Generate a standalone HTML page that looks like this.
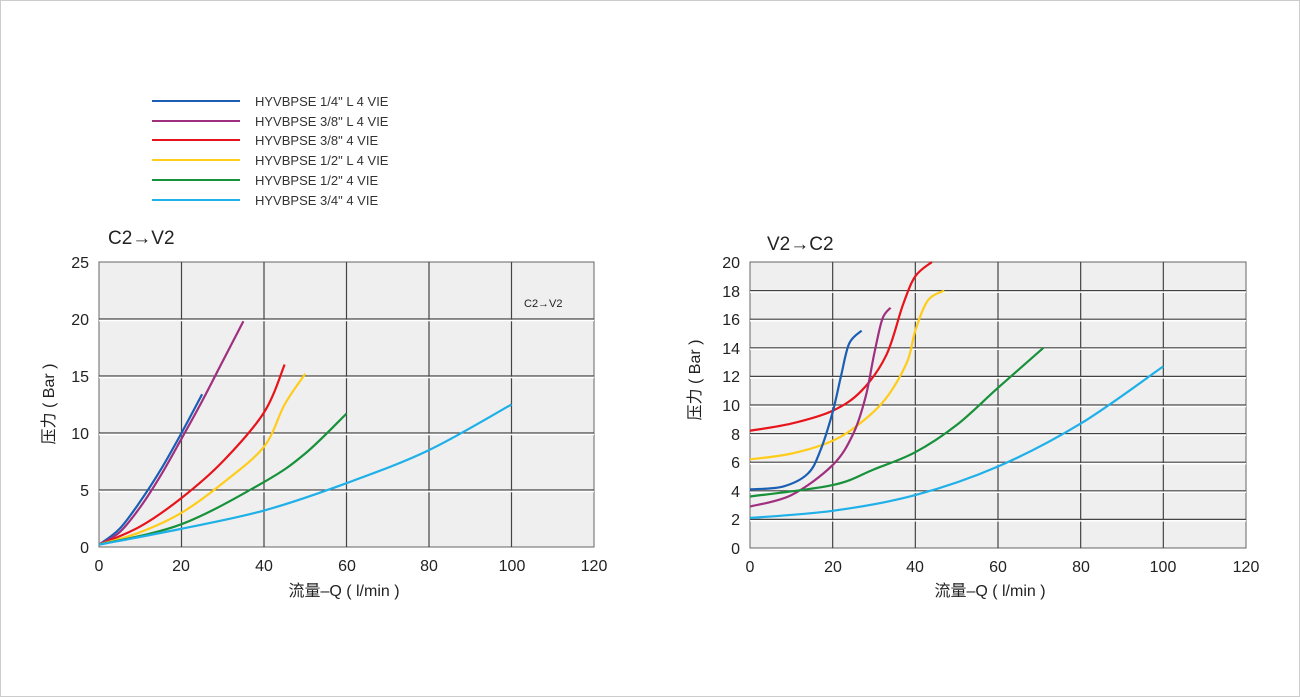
<!DOCTYPE html>
<html><head><meta charset="utf-8"><style>
html,body{margin:0;padding:0;background:#fff;}
svg{display:block;font-family:"Liberation Sans","Noto Sans CJK SC",sans-serif;}
</style></head><body>
<svg id="s" width="1300" height="697" xmlns="http://www.w3.org/2000/svg">
<rect x="0.5" y="0.5" width="1299" height="696" fill="#fff" stroke="#ccc"/>
<g stroke-width="2" fill="none">
<line x1="152" y1="101" x2="240" y2="101" stroke="#1a5fb4"/>
<line x1="152" y1="121" x2="240" y2="121" stroke="#a0307f"/>
<line x1="152" y1="140" x2="240" y2="140" stroke="#e8141c"/>
<line x1="152" y1="160" x2="240" y2="160" stroke="#ffcc1a"/>
<line x1="152" y1="180" x2="240" y2="180" stroke="#17913a"/>
<line x1="152" y1="200" x2="240" y2="200" stroke="#1fb0e8"/>
</g>
<g font-size="13" fill="#333">
<text x="255" y="106">HYVBPSE 1/4" L 4 VIE</text>
<text x="255" y="126">HYVBPSE 3/8" L 4 VIE</text>
<text x="255" y="145">HYVBPSE 3/8" 4 VIE</text>
<text x="255" y="165">HYVBPSE 1/2" L 4 VIE</text>
<text x="255" y="185">HYVBPSE 1/2" 4 VIE</text>
<text x="255" y="205">HYVBPSE 3/4" 4 VIE</text>
</g>
<!-- left chart -->
<rect x="99" y="262" width="495" height="285" fill="#efefef" stroke="#666"/>
<g id="gl"></g>
<text x="108" y="244" font-size="19" fill="#222">C2→V2</text>
<text x="524" y="307" font-size="11" fill="#222">C2→V2</text>
<g font-size="16" fill="#222" text-anchor="end">
<text x="89" y="268">25</text><text x="89" y="325">20</text><text x="89" y="382">15</text>
<text x="89" y="439">10</text><text x="89" y="496">5</text><text x="89" y="553">0</text>
</g>
<g font-size="16" fill="#222" text-anchor="middle">
<text x="99" y="571">0</text><text x="181" y="571">20</text><text x="264" y="571">40</text>
<text x="347" y="571">60</text><text x="429" y="571">80</text><text x="512" y="571">100</text><text x="594" y="571">120</text>
<text x="344" y="596">流量–Q ( l/min )</text>
</g>
<text transform="translate(54,404) rotate(-90)" font-size="16" fill="#222" text-anchor="middle">压力 ( Bar )</text>
<!-- right chart -->
<rect x="750" y="262" width="496" height="286" fill="#efefef" stroke="#666"/>
<g id="gr"></g>
<text x="767" y="250" font-size="19" fill="#222">V2→C2</text>
<g font-size="16" fill="#222" text-anchor="end">
<text x="740" y="268">20</text><text x="740" y="297">18</text><text x="740" y="325">16</text>
<text x="740" y="354">14</text><text x="740" y="382">12</text><text x="740" y="411">10</text>
<text x="740" y="440">8</text><text x="740" y="468">6</text><text x="740" y="497">4</text>
<text x="740" y="525">2</text><text x="740" y="554">0</text>
</g>
<g font-size="16" fill="#222" text-anchor="middle">
<text x="750" y="572">0</text><text x="833" y="572">20</text><text x="915" y="572">40</text>
<text x="998" y="572">60</text><text x="1081" y="572">80</text><text x="1163" y="572">100</text><text x="1246" y="572">120</text>
<text x="990" y="596">流量–Q ( l/min )</text>
</g>
<text transform="translate(700,380) rotate(-90)" font-size="16" fill="#222" text-anchor="middle">压力 ( Bar )</text>
</svg>
<script>
var NS="http://www.w3.org/2000/svg";
function el(p,t,a){var e=document.createElementNS(NS,t);for(var k in a)e.setAttribute(k,a[k]);p.appendChild(e);return e;}
function grid(g,x0,x1,y0,y1,nx,ny){
 for(var i=1;i<nx;i++){var x=x0+(x1-x0)*i/nx;el(g,'line',{x1:x,y1:y0,x2:x,y2:y1,stroke:'#444','stroke-width':1.2});}
 for(var j=1;j<ny;j++){var y=y0+(y1-y0)*j/ny;el(g,'line',{x1:x0,y1:y,x2:x1,y2:y,stroke:'#444','stroke-width':1.2});
  el(g,'line',{x1:x0,y1:y+1.5,x2:x1,y2:y+1.5,stroke:'#fff','stroke-width':1.5});}
}
function curve(g,pts,fx,fy,c){
 var P=pts.map(function(p){return [fx(p[0]),fy(p[1])];});
 var d="M"+P[0][0]+","+P[0][1];
 for(var i=0;i<P.length-1;i++){
  var p0=P[i-1]||P[i],p1=P[i],p2=P[i+1],p3=P[i+2]||P[i+1];
  var c1=[p1[0]+(p2[0]-p0[0])/6,p1[1]+(p2[1]-p0[1])/6];
  var c2=[p2[0]-(p3[0]-p1[0])/6,p2[1]-(p3[1]-p1[1])/6];
  d+=" C"+c1+" "+c2+" "+p2;
 }
 el(g,'path',{d:d,fill:'none',stroke:c,'stroke-width':2.2});
}
var gl=document.getElementById('gl'),gr=document.getElementById('gr');
grid(gl,99,594,262,547,6,5);grid(gr,750,1246,262,548,6,10);
var C={b:'#1a5fb4',p:'#a0307f',r:'#e8141c',y:'#ffcc1a',g:'#17913a',c:'#1fb0e8'};
var lx=function(q){return 99+q*4.125},ly=function(p){return 547-p*11.4};
curve(gl,[[0,0.2],[5,1.6],[10,4],[15,6.8],[20,10],[25,13.4]],lx,ly,C.b);
curve(gl,[[0,0.2],[5,1.3],[10,3.5],[15,6.3],[20,9.5],[25,12.8],[30,16.3],[35,19.8]],lx,ly,C.p);
curve(gl,[[0,0.2],[10,1.8],[20,4.3],[30,7.5],[40,11.8],[45,16]],lx,ly,C.r);
curve(gl,[[0,0.2],[10,1.3],[20,3],[30,5.6],[40,8.8],[45,12.5],[50,15.2]],lx,ly,C.y);
curve(gl,[[0,0.2],[20,2],[40,5.7],[50,8.2],[60,11.7]],lx,ly,C.g);
curve(gl,[[0,0.2],[20,1.6],[40,3.2],[60,5.6],[80,8.5],[100,12.5]],lx,ly,C.c);
var rx=function(q){return 750+q*4.133},ry=function(p){return 548-p*14.3};
curve(gr,[[0,8.2],[10,8.7],[20,9.6],[27,11],[33,13.5],[37,17],[40,19],[44,20]],rx,ry,C.r);
curve(gr,[[0,6.2],[10,6.6],[20,7.5],[27,8.8],[33,10.5],[38,13],[40,15.2],[43,17.3],[47,18]],rx,ry,C.y);
curve(gr,[[0,4.1],[8,4.3],[14,5.2],[17,6.8],[20,9.5],[22,12],[24,14.3],[27,15.2]],rx,ry,C.b);
curve(gr,[[0,2.9],[10,3.7],[20,5.8],[25,8],[28,10.6],[30,13.5],[32,16],[34,16.8]],rx,ry,C.p);
curve(gr,[[0,3.6],[20,4.4],[30,5.5],[40,6.7],[50,8.6],[60,11.2],[71,14]],rx,ry,C.g);
curve(gr,[[0,2.1],[20,2.6],[40,3.7],[60,5.7],[80,8.7],[100,12.7]],rx,ry,C.c);
</script>
</body></html>
